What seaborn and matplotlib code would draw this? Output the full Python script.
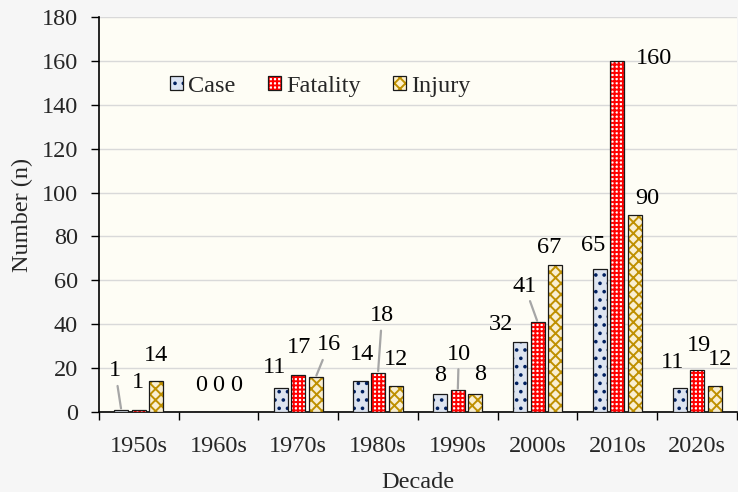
import matplotlib
matplotlib.use("Agg")
import matplotlib.pyplot as plt
from matplotlib.patches import Patch, Rectangle
from matplotlib.legend_handler import HandlerTuple
import seaborn as sns
import pandas as pd

# data
decades = ["1950s", "1960s", "1970s", "1980s", "1990s", "2000s", "2010s", "2020s"]
series = ["Case", "Fatality", "Injury"]
case = [1, 0, 11, 14, 8, 32, 65, 11]
fatality = [1, 0, 17, 18, 10, 41, 160, 19]
injury = [14, 0, 16, 12, 8, 67, 90, 12]

# label nudges (pixels from bar top centre) and leader-line flags
nudge = {
    "Case": [(-6, 39), (0, 27), (-6, 20), (1, 27), (0, 19), (-19, 17), (-7, 24), (-7, 25)],
    "Fatality": [(-1, 27), (0, 27), (1, 27), (4, 57), (1, 36), (-13, 36), (37, 2), (2, 25)],
    "Injury": [(0, 26), (0, 27), (13, 32), (0, 26), (5, 20), (-6, 17), (12, 16), (5, 26)],
}
leader = {
    "Case": [1, 0, 0, 0, 0, 0, 0, 0],
    "Fatality": [0, 0, 0, 1, 1, 1, 0, 0],
    "Injury": [0, 0, 1, 0, 0, 0, 0, 0],
}

face = {"Case": "#dae3f3", "Fatality": "#ffffff", "Injury": "#fff2cc"}
hatch_col = {"Case": "#002060", "Fatality": "#ff0000", "Injury": "#bf9000"}
hatch = {"Case": "..", "Fatality": "++++", "Injury": "xxx"}

df = pd.DataFrame({
    "Decade": decades * 3,
    "Series": [s for s in series for _ in decades],
    "Number": case + fatality + injury,
})

sns.set_style("ticks")
plt.rcParams["font.family"] = ["Liberation Serif", "DejaVu Serif"]
plt.rcParams["hatch.linewidth"] = 1.4
FS = 17.5

fig = plt.figure(figsize=(7.38, 4.92), dpi=100, facecolor="#f6f6f6")
ax = fig.add_axes([0.134, 0.1626, 0.8646, 0.8028])
ax.set_facecolor("#fefdf5")

sns.barplot(data=df, x="Decade", y="Number", hue="Series", order=decades,
            hue_order=series, palette=face, width=0.66, gap=0.2,
            legend=False, ax=ax, zorder=3)

for s, cont in zip(series, ax.containers):
    for i, bar in enumerate(cont):
        bar.set_hatch(hatch[s])
        bar.set_edgecolor(hatch_col[s])
        bar.set_linewidth(0)
        x0, y0 = bar.get_xy()
        ax.add_patch(Rectangle((x0, y0), bar.get_width(), bar.get_height(),
                               fill=False, edgecolor="#1a1a1a", lw=0.9, zorder=4))
        top = bar.get_height()
        xc = x0 + bar.get_width() / 2
        dx, dy = nudge[s][i]
        ap = None
        if leader[s][i]:
            ap = dict(arrowstyle="-", color="#a6a6a6", lw=1.6, shrinkA=1, shrinkB=1)
        ax.annotate(f"{top:.0f}", (xc, top), xytext=(dx, dy),
                    textcoords="offset pixels", ha="center", va="center",
                    fontsize=FS, color="black", arrowprops=ap, zorder=5)

ax.set_ylim(0, 180)
ax.set_yticks(range(0, 181, 20))
ax.set_xlim(-0.5, len(decades) - 0.5)
ax.yaxis.grid(True, color="#d9d9d9", lw=1, zorder=0)
ax.set_axisbelow(True)
ax.set_xticks(range(len(decades)))
ax.set_xticklabels(decades)
ax.set_xticks([i - 0.5 for i in range(len(decades) + 1)], minor=True)
ax.tick_params(axis="x", which="major", length=0, labelsize=FS, pad=17)
ax.tick_params(axis="x", which="minor", length=6, width=1, color="black", direction="out")
ax.tick_params(axis="y", length=6, width=1, color="black", labelsize=FS, pad=9)
for sp in ["top", "right"]:
    ax.spines[sp].set_visible(False)
for sp in ["left", "bottom"]:
    ax.spines[sp].set_color("black")
    ax.spines[sp].set_linewidth(1.2)

ax.set_xlabel("Decade", fontsize=FS, labelpad=11)
ax.set_ylabel("Number (n)", fontsize=FS, labelpad=6)

handles = [(Patch(facecolor=face[s], edgecolor=hatch_col[s], hatch=hatch[s], lw=0),
            Patch(fill=False, edgecolor="#1a1a1a", lw=0.9)) for s in series]
ax.legend(handles, series, handler_map={tuple: HandlerTuple(ndivide=1, pad=0)},
          loc="center left", bbox_to_anchor=(0.077, 0.825), ncol=3, frameon=False,
          fontsize=FS, handlelength=0.52, handleheight=0.52, handletextpad=0.22,
          columnspacing=1.35)

fig.savefig("out.png", dpi=100, facecolor=fig.get_facecolor())
